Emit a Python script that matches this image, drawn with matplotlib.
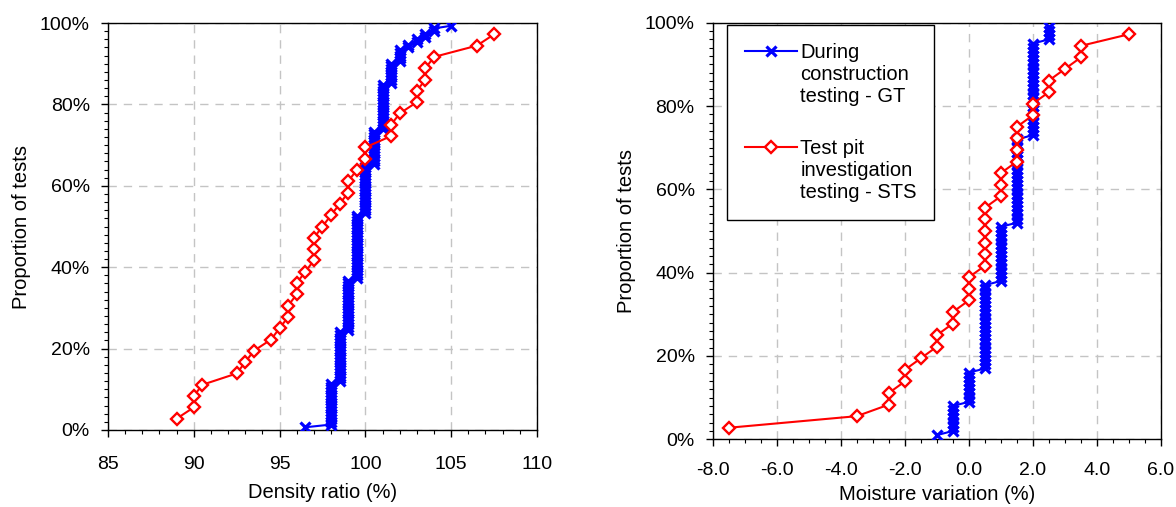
import numpy as np
import matplotlib
matplotlib.use("Agg")
import matplotlib.pyplot as plt
from matplotlib.ticker import MultipleLocator, PercentFormatter, FormatStrFormatter
from matplotlib.legend_handler import HandlerLine2D

plt.rcParams['font.family'] = ['Liberation Sans', 'DejaVu Sans']
plt.rcParams['axes.unicode_minus'] = False

# Density ratio (%) from during-construction testing (GT): value and number of tests
gt_density_values = [96.5, 98.0, 98.5, 99.0, 99.5, 100.0, 100.5, 101.0, 101.5,
                     102.0, 102.5, 103.0, 103.5, 104.0, 105.0]
gt_density_counts = [1, 16, 19, 19, 24, 18, 13, 17, 8, 5, 2, 2, 2, 2, 1]

# Density ratio (%) from test pit investigation testing (STS)
sts_density = [89.0, 90.0, 90.0, 90.5, 92.5, 93.0, 93.5, 94.5, 95.0, 95.5, 95.5,
               96.0, 96.0, 96.5, 97.0, 97.0, 97.0, 97.5, 98.0, 98.5, 99.0, 99.0,
               99.5, 100.0, 100.0, 101.5, 101.5, 102.0, 103.0, 103.0, 103.5, 103.5,
               104.0, 106.5, 107.5]

# Moisture variation (%) from during-construction testing (GT): value and number of tests
gt_moisture_values = [-1.0, -0.5, 0.0, 0.5, 1.0, 1.5, 2.0, 2.5]
gt_moisture_counts = [1, 7, 8, 21, 14, 21, 23, 4]

# Moisture variation (%) from test pit investigation testing (STS)
sts_moisture = [-7.5, -3.5, -2.5, -2.5, -2.0, -2.0, -1.5, -1.0, -1.0, -0.5, -0.5,
                0.0, 0.0, 0.0, 0.5, 0.5, 0.5, 0.5, 0.5, 0.5, 1.0, 1.0, 1.0,
                1.5, 1.5, 1.5, 1.5, 2.0, 2.0, 2.5, 2.5, 3.0, 3.5, 3.5, 5.0]

label_gt = "During\nconstruction\ntesting - GT"
label_sts = "Test pit\ninvestigation\ntesting - STS"

BLUE = "#0000FF"
RED = "#FF0000"
TICK_FS = 14
LABEL_FS = 14.5
LEGEND_FS = 14.5


def cumulative(values):
    """Sorted values with their cumulative proportion rank/(n+1)."""
    x = np.sort(np.asarray(values, dtype=float))
    y = np.arange(1, len(x) + 1) / (len(x) + 1)
    return x, y


class FirstLineHandler(HandlerLine2D):
    """Legend handle placed level with the first line of a multi-line label."""

    def create_artists(self, legend, orig_handle, xdescent, ydescent,
                       width, height, fontsize, trans):
        artists = super().create_artists(legend, orig_handle, xdescent, ydescent,
                                         width, height, fontsize, trans)
        shift = fontsize * 1.2
        for a in artists:
            a.set_ydata(np.asarray(a.get_ydata(), dtype=float) + shift)
        return artists


fig = plt.figure(figsize=(11.76, 5.07), dpi=100)
ax1 = fig.add_axes([0.0918, 0.1519, 0.3648, 0.8027])
ax2 = fig.add_axes([0.6061, 0.1335, 0.3810, 0.8217])


def draw(ax, gt_vals, gt_counts, sts_vals, xpad):
    gx, gy = cumulative(np.repeat(gt_vals, gt_counts))
    sx, sy = cumulative(sts_vals)
    ax.plot(gx, gy, color=BLUE, lw=1.5, marker='x', ms=7.8, mew=2.3,
            label=label_gt, zorder=3)
    ax.plot(sx, sy, color=RED, lw=1.5, marker='D', ms=6.5, mew=1.7,
            mfc='white', mec=RED, label=label_sts, zorder=4)
    ax.set_ylim(0, 1)
    ax.yaxis.set_major_locator(MultipleLocator(0.2))
    ax.yaxis.set_minor_locator(MultipleLocator(0.02))
    ax.yaxis.set_major_formatter(PercentFormatter(xmax=1, decimals=0))
    ax.grid(True, which='major', color='#C4C4C4', ls=(0, (6, 5)), lw=1.0)
    ax.set_axisbelow(True)
    ax.tick_params(which='major', direction='out', length=5, width=1,
                   labelsize=TICK_FS)
    ax.tick_params(which='minor', direction='out', length=3, width=0.8)
    ax.tick_params(axis='y', which='major', pad=8)
    ax.tick_params(axis='x', which='major', pad=xpad)
    for sp in ax.spines.values():
        sp.set_linewidth(1.0)
        sp.set_color('black')
    ax.set_ylabel("Proportion of tests", fontsize=LABEL_FS, labelpad=6.5)


draw(ax1, gt_density_values, gt_density_counts, sts_density, xpad=14)
ax1.set_xlim(85, 110)
ax1.xaxis.set_major_locator(MultipleLocator(5))
ax1.xaxis.set_minor_locator(MultipleLocator(1))
ax1.set_xlabel("Density ratio (%)", fontsize=LABEL_FS, labelpad=7)

draw(ax2, gt_moisture_values, gt_moisture_counts, sts_moisture, xpad=11.5)
ax2.set_xlim(-8, 6)
ax2.xaxis.set_major_locator(MultipleLocator(2))
ax2.xaxis.set_minor_locator(MultipleLocator(0.5))
ax2.xaxis.set_major_formatter(FormatStrFormatter('%.1f'))
ax2.set_xlabel("Moisture variation (%)", fontsize=LABEL_FS, labelpad=4.5)

leg = ax2.legend(loc='upper left', bbox_to_anchor=(0.032, 0.9945),
                 borderaxespad=0, fontsize=LEGEND_FS, frameon=True,
                 fancybox=False, edgecolor='black', framealpha=1,
                 handlelength=2.6, handletextpad=0.15, labelspacing=1.65,
                 borderpad=0.88,
                 handler_map={matplotlib.lines.Line2D: FirstLineHandler()})
leg.get_frame().set_linewidth(1.0)

fig.savefig("out.png", dpi=100)
